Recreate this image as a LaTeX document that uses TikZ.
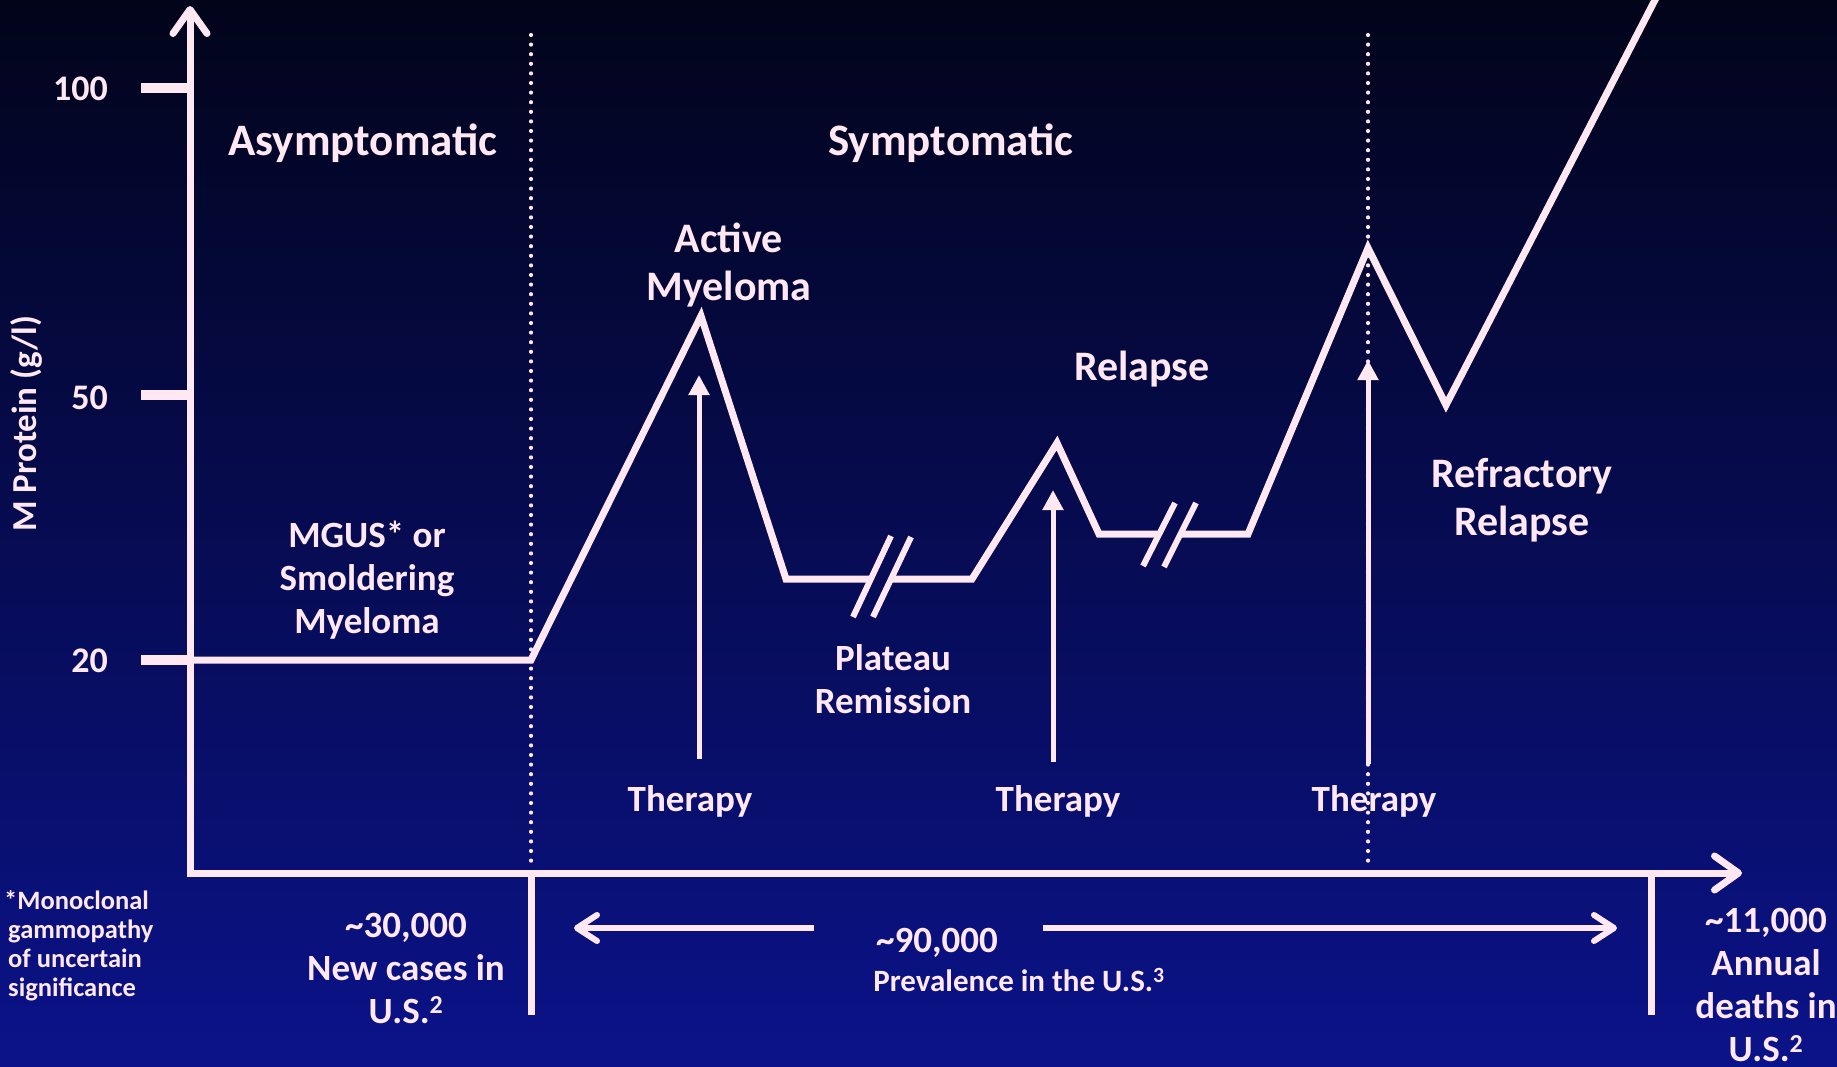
\documentclass[tikz,border=0pt]{standalone}
\usepackage{fontspec}
\setmainfont{Carlito}
\usetikzlibrary{arrows.meta}
\definecolor{ink}{RGB}{255,232,242}
\definecolor{bgtop}{RGB}{2,4,26}
\definecolor{bgbot}{RGB}{11,19,138}
\begin{document}
\begin{tikzpicture}[x=1pt,y=-1pt,
  every node/.style={text=ink, inner sep=0pt, font=\bfseries},
  curve/.style={draw=ink, line width=7pt, line join=miter},
  axisline/.style={draw=ink, line width=7pt, line join=miter},
  tickmark/.style={draw=ink, line width=10pt},
  slash/.style={draw=ink, line width=6pt},
  dots/.style={draw=ink, line width=4.2pt, line cap=round, dash pattern=on 0pt off 9.6pt},
  therapyarrow/.style={draw=ink, line width=5pt, -{Triangle[length=20pt,width=20pt]}},
  bar/.style={draw=ink, line width=7pt},
  prevarrow/.style={draw=ink, line width=6pt, -{Straight Barb[length=20pt,width=26pt,round]}},
  big/.style={font=\bfseries\fontsize{45}{54}\selectfont},
  mid/.style={font=\bfseries\fontsize{42}{48}\selectfont, align=center},
  small/.style={font=\bfseries\fontsize{37}{43}\selectfont, align=center},
  tiny/.style={font=\bfseries\fontsize{26.5}{29}\selectfont, align=left}
]
\useasboundingbox (0,0) rectangle (1837,1067);
\clip (0,0) rectangle (1837,1067);
\fill[top color=bgtop, bottom color=bgbot] (0,0) rectangle (1837,1067);

% coordinates
\coordinate (ytop) at (190,6);
\coordinate (o) at (190,873);
\coordinate (xend) at (1742,873);
\coordinate (c0) at (190,660);
\coordinate (c1) at (531,660);
\coordinate (c2) at (701,316);
\coordinate (c3) at (786,579);
\coordinate (c4) at (871,579);
\coordinate (c5) at (891,579);
\coordinate (c6) at (972,579);
\coordinate (c7) at (1057,443);
\coordinate (c8) at (1099,534);
\coordinate (c9) at (1159,534);
\coordinate (c10) at (1180,534);
\coordinate (c11) at (1248,534);
\coordinate (c12) at (1368,248);
\coordinate (c13) at (1446,405);
\coordinate (c14) at (1656,-2);

% dotted separators
\coordinate (d1t) at (531,35);
\coordinate (d1b) at (531,870);
\coordinate (d2t) at (1368,35);
\coordinate (d2b) at (1368,870);
\draw[dots] (d1t) -- (d1b);
\draw[dots] (d2t) -- (d2b);

% axes
\draw[axisline, {Straight Barb[length=24pt,width=34pt,round]}-{Straight Barb[length=24pt,width=34pt,round]}] (ytop) -- (o) -- (xend);

% ticks
\coordinate (k100a) at (141,88);  \coordinate (k100b) at (190,88);
\coordinate (k50a) at (141,395);  \coordinate (k50b) at (190,395);
\coordinate (k20a) at (141,660);  \coordinate (k20b) at (190,660);
\draw[tickmark] (k100a) -- (k100b);
\draw[tickmark] (k50a) -- (k50b);
\draw[tickmark] (k20a) -- (k20b);
\node[font=\bfseries\fontsize{36}{40}\selectfont, anchor=east] (l100) at (108,89) {100};
\node[font=\bfseries\fontsize{36}{40}\selectfont, anchor=east] (l50) at (108,398) {50};
\node[font=\bfseries\fontsize{36}{40}\selectfont, anchor=east] (l20) at (108,661) {20};
\node[font=\bfseries\fontsize{35}{40}\selectfont, rotate=90] (ylab) at (26,424) {M Protein (g/l)};

% curve
\draw[curve] (c0) -- (c1) -- (c2) -- (c3) -- (c4);
\draw[curve] (c5) -- (c6) -- (c7) -- (c8) -- (c9);
\draw[curve] (c10) -- (c11) -- (c12) -- (c13) -- (c14);

% break marks
\coordinate (s1a) at (853,617); \coordinate (s1b) at (891,536);
\coordinate (s1c) at (873,617); \coordinate (s1d) at (911,537);
\coordinate (s2a) at (1143,566); \coordinate (s2b) at (1175,503);
\coordinate (s2c) at (1164,567); \coordinate (s2d) at (1196,503);
\draw[slash] (s1a) -- (s1b);
\draw[slash] (s1c) -- (s1d);
\draw[slash] (s2a) -- (s2b);
\draw[slash] (s2c) -- (s2d);

% therapy arrows
\coordinate (t1b) at (699,759); \coordinate (t1t) at (699,375);
\coordinate (t2b) at (1053,762); \coordinate (t2t) at (1053,490);
\coordinate (t3b) at (1368,764); \coordinate (t3t) at (1368,360);
\draw[therapyarrow] (t1b) -- (t1t);
\draw[therapyarrow] (t2b) -- (t2t);
\draw[therapyarrow] (t3b) -- (t3t);

% bottom bars and prevalence arrows
\coordinate (b1t) at (531,873); \coordinate (b1b) at (531,1015);
\coordinate (b2t) at (1651,873); \coordinate (b2b) at (1651,1015);
\draw[bar] (b1t) -- (b1b);
\draw[bar] (b2t) -- (b2b);
\coordinate (pl0) at (814,928); \coordinate (pl1) at (574,928);
\coordinate (pr0) at (1043,928); \coordinate (pr1) at (1617,928);
\draw[prevarrow] (pl0) -- (pl1);
\draw[prevarrow] (pr0) -- (pr1);

% labels
\node[big] (asym) at (363,143) {Asymptomatic};
\node[big] (symp) at (951,143) {Symptomatic};
\node[mid] (active) at (729,265) {Active\\Myeloma};
\node[mid] (relapse) at (1142,369) {Relapse};
\node[mid] (refr) at (1522,500) {Refractory\\Relapse};
\node[small] (mgus) at (367,580) {MGUS* or\\Smoldering\\Myeloma};
\node[small] (plateau) at (893,679) {Plateau\\Remission};
\node[small] (th1) at (690,801) {Therapy};
\node[small] (th2) at (1058,801) {Therapy};
\node[small] (th3) at (1374,801) {Therapy};

\node[tiny, anchor=west] (foot) at (4,946) {*Monoclonal\\\hspace{4pt}gammopathy\\\hspace{4pt}of uncertain\\\hspace{4pt}significance};
\node[small] (newc) at (406,968) {\textasciitilde 30,000\\New cases in\\U.S.\textsuperscript{2}};
\node[small] (ninety) at (937,943) {\textasciitilde 90,000};
\node[font=\bfseries\fontsize{31}{36}\selectfont] (prev) at (1019,980) {Prevalence in the U.S.\textsuperscript{3}};
\node[small] (deaths) at (1766,985) {\textasciitilde 11,000\\Annual\\deaths in\\U.S.\textsuperscript{2}};
\end{tikzpicture}
\end{document}
